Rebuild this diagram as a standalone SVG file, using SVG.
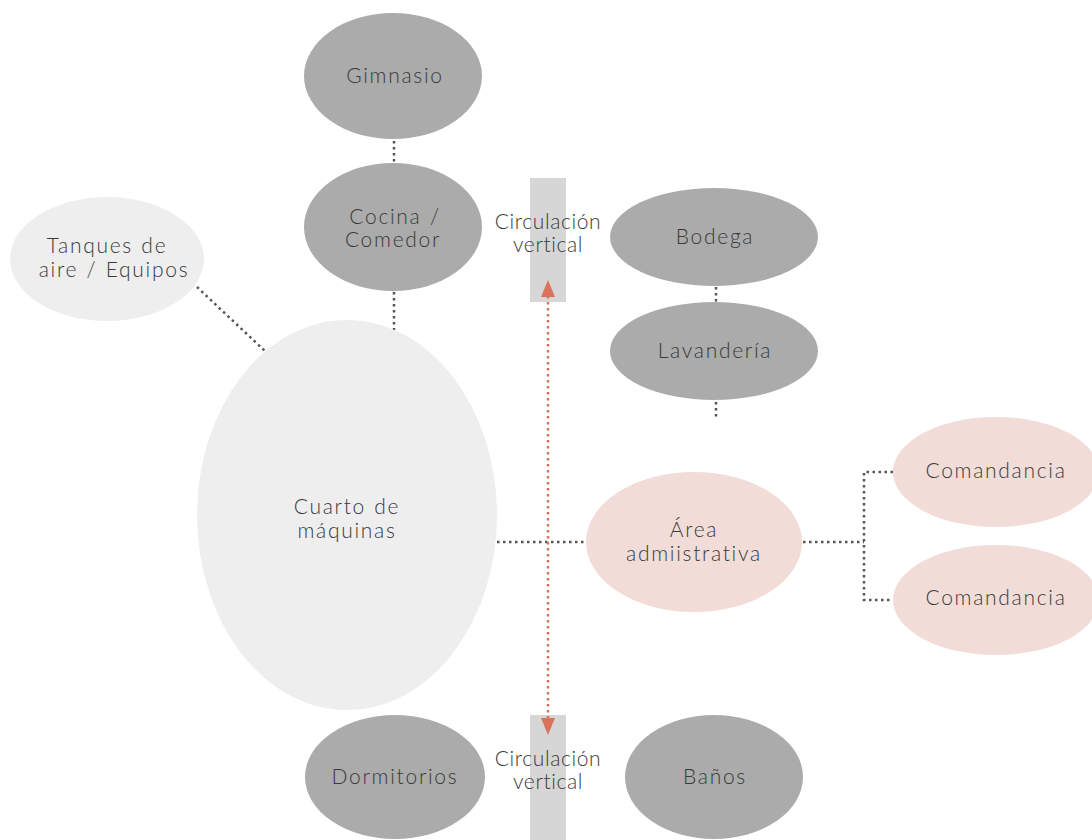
<svg xmlns="http://www.w3.org/2000/svg" width="1092" height="840" viewBox="0 0 1092 840">
<defs>
<style>
.dark{fill:#aaabaa}
.light{fill:#eeeeee}
.pink{fill:#f2dcd7}
.col{fill:#d6d6d6}
text{font-family:"Lato","Open Sans",sans-serif;font-weight:300;font-size:21px;fill:#3a3a3a;text-anchor:middle;letter-spacing:1.7px;word-spacing:1px}
.dot{stroke:#555;stroke-width:2.5;stroke-dasharray:2.5 3.5;fill:none}
.red{stroke:#d9735d;stroke-width:2.5;stroke-dasharray:2.5 3.5;fill:none}
.tight{letter-spacing:0.6px}
</style>
</defs>
<rect width="1092" height="840" fill="#fff"/>
<g id="col-top"><rect class="col" x="530" y="178" width="36" height="124"/></g>
<g id="col-bottom"><rect class="col" x="530" y="715" width="36" height="125"/></g>
<g id="connectors">
<line class="dot" x1="394" y1="141" x2="394" y2="162"/>
<line class="dot" x1="394" y1="292" x2="394" y2="330"/>
<line class="dot" x1="197" y1="287" x2="266" y2="352"/>
<line class="dot" x1="716" y1="287" x2="716" y2="302"/>
<line class="dot" x1="716" y1="402" x2="716" y2="417"/>
<line class="dot" x1="497" y1="542" x2="586" y2="542"/>
<line class="dot" x1="803" y1="542" x2="864" y2="542"/>
<polyline class="dot" points="893,472 864,472 864,600 893,600"/>
<line class="red" x1="548" y1="296" x2="548" y2="720"/>
<path d="M541,297 L548,280 L555,297 Z" fill="#d9735d"/>
<path d="M541,718 L548,735 L555,718 Z" fill="#d9735d"/>
</g>
<g id="gimnasio"><ellipse class="dark" cx="393" cy="76" rx="89" ry="63"/><text x="395" y="83">Gimnasio</text></g>
<g id="cocina"><ellipse class="dark" cx="393" cy="227" rx="89" ry="64"/><text x="395" y="224">Cocina /</text><text x="393" y="247">Comedor</text></g>
<g id="tanques"><ellipse class="light" cx="107" cy="259" rx="97" ry="62"/><text x="107" y="253">Tanques de</text><text x="114" y="277">aire / Equipos</text></g>
<g id="cuarto"><ellipse class="light" cx="347" cy="515" rx="150" ry="195"/><text x="347" y="514">Cuarto de</text><text x="347" y="538">máquinas</text></g>
<g id="circ-top"><text class="tight" x="548" y="229">Circulación</text><text class="tight" x="548" y="252">vertical</text></g>
<g id="bodega"><ellipse class="dark" cx="714" cy="237" rx="104" ry="49"/><text x="715" y="244">Bodega</text></g>
<g id="lavanderia"><ellipse class="dark" cx="714" cy="351" rx="104" ry="49"/><text x="715" y="358">Lavandería</text></g>
<g id="area"><ellipse class="pink" cx="694" cy="542" rx="108" ry="70"/><text x="694" y="537">Área</text><text x="694" y="561">admiistrativa</text></g>
<g id="comandancia1"><ellipse class="pink" cx="996" cy="472" rx="103" ry="55"/><text x="996" y="478">Comandancia</text></g>
<g id="comandancia2"><ellipse class="pink" cx="996" cy="600" rx="103" ry="55"/><text x="996" y="605">Comandancia</text></g>
<g id="dormitorios"><ellipse class="dark" cx="395" cy="777" rx="90" ry="62"/><text x="395" y="784">Dormitorios</text></g>
<g id="banos"><ellipse class="dark" cx="714" cy="777" rx="89" ry="62"/><text x="715" y="784">Baños</text></g>
<g id="circ-bottom"><text class="tight" x="548" y="766">Circulación</text><text class="tight" x="548" y="789">vertical</text></g>
</svg>
